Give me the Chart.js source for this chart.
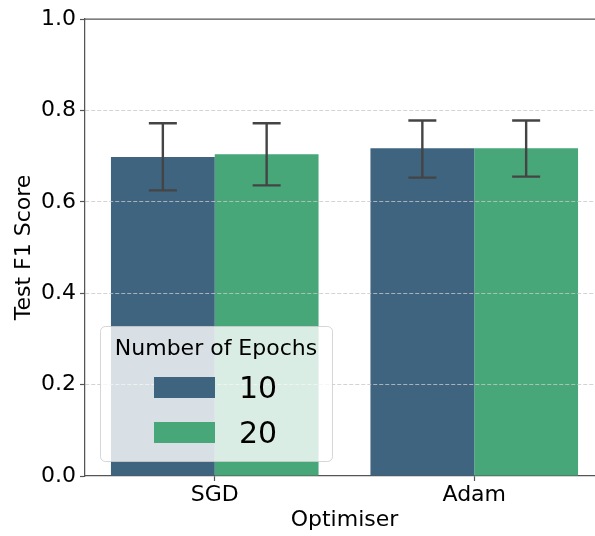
<!DOCTYPE html>
<html>
<head>
<meta charset="utf-8">
<script src="https://cdn.jsdelivr.net/npm/chart.js@4"></script>
<style>
  html, body { margin: 0; padding: 0; background: #fff; overflow: hidden; }
  #myChart { display: block; }
</style>
</head>
<body>
<canvas id="myChart" width="604" height="536"></canvas>
<script>
// data
const optimisers = ['SGD', 'Adam'];
const epochLabels = ['10', '20'];
const f1Epochs10 = [0.698, 0.717];
const f1Epochs20 = [0.704, 0.717];
const errLow10 = [0.625, 0.653];
const errHigh10 = [0.772, 0.778];
const errLow20 = [0.636, 0.655];
const errHigh20 = [0.772, 0.778];
const yTicks = [0, 0.2, 0.4, 0.6, 0.8, 1.0];

const barColors = ['#3e6480', '#47a778'];
const FONT = 'DejaVu Sans';

Chart.defaults.font.family = FONT;
Chart.defaults.color = '#000';

// error bars, drawn from the y scale
const errorBars = {
    id: 'errorBars',
    afterDatasetsDraw(chart) {
        const ctx = chart.ctx;
        const y = chart.scales.y;
        chart.data.datasets.forEach((ds, i) => {
            const meta = chart.getDatasetMeta(i);
            meta.data.forEach((bar, j) => {
                const top = y.getPixelForValue(ds.errHigh[j]);
                const bot = y.getPixelForValue(ds.errLow[j]);
                ctx.save();
                ctx.strokeStyle = '#444';
                ctx.lineWidth = 2.4;
                ctx.beginPath();
                ctx.moveTo(bar.x, top); ctx.lineTo(bar.x, bot);
                ctx.moveTo(bar.x - 14, top); ctx.lineTo(bar.x + 14, top);
                ctx.moveTo(bar.x - 14, bot); ctx.lineTo(bar.x + 14, bot);
                ctx.stroke();
                ctx.restore();
            });
        });
    }
};

// top spine + legend box inside the plot
const frameAndLegend = {
    id: 'frameAndLegend',
    afterDraw(chart) {
        const ctx = chart.ctx;
        const a = chart.chartArea;
        ctx.save();
        ctx.strokeStyle = '#555';
        ctx.lineWidth = 1.25;
        ctx.beginPath();
        ctx.moveTo(a.left, a.top); ctx.lineTo(a.right, a.top);
        ctx.stroke();

        // legend
        ctx.fillStyle = 'rgba(255,255,255,0.8)';
        ctx.strokeStyle = 'rgba(204,204,204,0.8)';
        ctx.lineWidth = 1;
        ctx.beginPath();
        ctx.roundRect(100.5, 326.5, 232, 135, 5);
        ctx.fill();
        ctx.stroke();

        ctx.fillStyle = '#000';
        ctx.font = '22px "' + FONT + '"';
        ctx.textAlign = 'center';
        ctx.textBaseline = 'alphabetic';
        ctx.fillText('Number of Epochs', 216, 355);

        ctx.textAlign = 'left';
        ctx.font = '30px "' + FONT + '"';
        chart.data.datasets.forEach((ds, i) => {
            const yy = 377 + i * 45;
            ctx.fillStyle = ds.backgroundColor;
            ctx.fillRect(154, yy, 61, 21);
            ctx.fillStyle = '#000';
            ctx.fillText(ds.label, 239, yy + 21);
        });
        ctx.restore();
    }
};

const ctx = document.getElementById('myChart').getContext('2d');
new Chart(ctx, {
    type: 'bar',
    data: {
        labels: optimisers,
        datasets: [
            { label: epochLabels[0], data: f1Epochs10, errLow: errLow10, errHigh: errHigh10,
              backgroundColor: barColors[0] },
            { label: epochLabels[1], data: f1Epochs20, errLow: errLow20, errHigh: errHigh20,
              backgroundColor: barColors[1] }
        ]
    },
    options: {
        responsive: false,
        animation: false,
        devicePixelRatio: 1,
        categoryPercentage: 0.8,
        barPercentage: 1.0,
        layout: { padding: { top: 19, right: 0, left: 0, bottom: 0 } },
        plugins: {
            legend: { display: false },
            tooltip: { enabled: false }
        },
        scales: {
            x: {
                afterFit(scale) { scale.height = 60; },
                grid: { display: true, drawOnChartArea: false, offset: false,
                        tickLength: 5, tickColor: '#555', tickWidth: 1.2 },
                border: { color: '#555', width: 1.25 },
                ticks: { font: { size: 22 }, color: '#000', padding: 1 },
                title: { display: true, text: 'Optimiser', font: { size: 22 }, color: '#000',
                         padding: { top: 0, bottom: 3 } }
            },
            y: {
                min: 0,
                max: 1,
                afterFit(scale) { scale.width = 85; },
                afterBuildTicks(scale) { scale.ticks = yTicks.map(v => ({ value: v })); },
                grid: {
                    z: 1,
                    color: c => (c.tick && (c.tick.value === 0 || c.tick.value === 1)) ? 'rgba(0,0,0,0)' : '#c8c8c8',
                    lineWidth: 0.8,
                    tickLength: 5,
                    tickColor: '#555',
                    tickWidth: 1.2
                },
                border: { color: '#555', width: 1.25, dash: [4, 2], z: 1 },
                ticks: {
                    font: { size: 22 },
                    color: '#000',
                    padding: 4,
                    callback: v => v.toFixed(1)
                },
                title: { display: true, text: 'Test F1 Score', font: { size: 22 }, color: '#000',
                         padding: { top: 11, bottom: 0 } }
            }
        }
    },
    plugins: [errorBars, frameAndLegend]
});
</script>
</body>
</html>
